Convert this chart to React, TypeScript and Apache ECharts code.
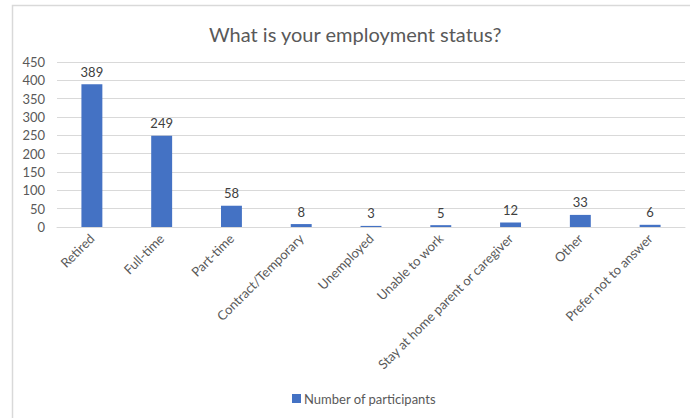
import React, { useEffect, useRef } from "react";
import * as echarts from "echarts";

const categories = [
  "Retired",
  "Full-time",
  "Part-time",
  "Contract/Temporary",
  "Unemployed",
  "Unable to work",
  "Stay at home parent or caregiver",
  "Other",
  "Prefer not to answer",
];
const participants = [389, 249, 58, 8, 3, 5, 12, 33, 6];
const seriesName = "Number of participants";
const titleText = "What is your employment status?";

const FONT = "Lato, 'Liberation Sans', sans-serif";

export default function App() {
  const ref = useRef<HTMLDivElement>(null);
  useEffect(() => {
    if (!ref.current) return;
    const chart = echarts.init(ref.current, undefined, { renderer: "svg" });
    chart.setOption({
      animation: false,
      backgroundColor: "#ffffff",
      textStyle: { fontFamily: FONT },
      title: {
        text: titleText,
        left: 204,
        top: 19,
        textStyle: { fontSize: 20, fontWeight: "normal", color: "#595959", fontFamily: FONT },
      },
      graphic: [
        {
          type: "rect",
          shape: { x: 12.5, y: 5.5, width: 700, height: 430 },
          style: { fill: "none", stroke: "#d9d9d9", lineWidth: 1.5 },
          silent: true,
        },
      ],
      legend: {
        bottom: 8,
        left: 287,
        itemWidth: 9,
        itemHeight: 9,
        icon: "rect",
        itemGap: 4,
        textStyle: { fontSize: 13, color: "#595959", fontFamily: FONT, padding: [0, 0, 0, -2] },
        data: [seriesName],
      },
      grid: { left: 57, right: 5, top: 62, bottom: 191, containLabel: false },
      xAxis: {
        type: "category",
        data: categories,
        axisLine: { lineStyle: { color: "#d9d9d9", width: 1 } },
        axisTick: { show: false },
        axisLabel: {
          rotate: 45,
          interval: 0,
          margin: 9,
          fontSize: 13,
          color: "#595959",
          fontFamily: FONT,
        },
      },
      yAxis: {
        type: "value",
        min: 0,
        max: 450,
        interval: 50,
        axisLine: { show: false },
        axisTick: { show: false },
        splitLine: { lineStyle: { color: "#d9d9d9", width: 1 } },
        axisLabel: { fontSize: 13, color: "#595959", margin: 12, fontFamily: FONT },
      },
      series: [
        {
          name: seriesName,
          type: "bar",
          data: participants,
          barWidth: "30%",
          itemStyle: { color: "#4472C4" },
          label: {
            show: true,
            position: "top",
            distance: 6,
            fontSize: 13,
            color: "#404040",
            fontFamily: FONT,
          },
        },
      ],
    });
    return () => chart.dispose();
  }, []);
  return (
    <div
      ref={ref}
      style={{ position: "fixed", left: 0, top: 0, width: 690, height: 418 }}
    />
  );
}
